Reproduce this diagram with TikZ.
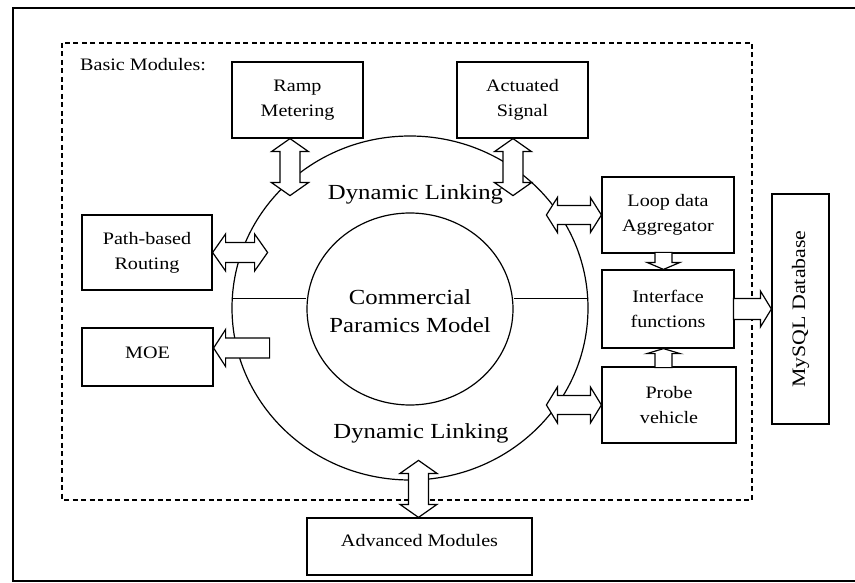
\documentclass[tikz,border=0pt]{standalone}
\usepackage{fontspec}
\setmainfont{Liberation Serif}[FakeStretch=1.15]
\usetikzlibrary{shapes.geometric,calc}
\begin{document}
\begin{tikzpicture}[x=1pt,y=-1pt,
  box/.style={draw, line width=1.2pt, align=center, inner sep=0pt,
    font=\fontsize{17.5}{25}\selectfont},
  big/.style={font=\fontsize{21.5}{28}\selectfont, align=center, inner sep=0pt},
  fat/.style={draw, line width=1.2pt, fill=white, line join=miter},
  ring/.style={ellipse, draw, line width=1.2pt, inner sep=0pt},
  fathw/.store in=\fathw, fatbw/.store in=\fatbw, fathl/.store in=\fathl,
  fathw=18.5, fatbw=10, fathl=13,
  pics/dbl/.style={code={\path[fat] (0,0) -- (\fathl,\fathw) -- (\fathl,\fatbw)
     -- (#1-\fathl,\fatbw) -- (#1-\fathl,\fathw) -- (#1,0) -- (#1-\fathl,-\fathw)
     -- (#1-\fathl,-\fatbw) -- (\fathl,-\fatbw) -- (\fathl,-\fathw) -- cycle;}},
  pics/sgl/.style={code={\path[fat] (0,0) -- (\fathl,\fathw) -- (\fathl,\fatbw)
     -- (#1,\fatbw) -- (#1,-\fatbw) -- (\fathl,-\fatbw) -- (\fathl,-\fathw) -- cycle;}},
]
\useasboundingbox (0,0) rectangle (855,583);
\fill[white] (0,0) rectangle (855,583);
% outer frame
\draw[line width=2pt] (13,8) rectangle (870,581);
% dashed module area
\draw[line width=1.2pt, dash pattern=on 5pt off 3.5pt] (62,43) rectangle (752,500);
\node[anchor=base west, inner sep=0pt, font=\fontsize{17.5}{20}\selectfont] (basic) at (80,71) {Basic Modules:};

% circles
\node[ring, minimum width=356, minimum height=344] (outer) at (410,308) {};
\node[ring, minimum width=206, minimum height=192] (inner) at (410,309) {};
\draw[line width=1.2pt] (outer.177) -- (outer.177 -| inner.west);
\draw[line width=1.2pt] (outer.3) -- (outer.3 -| inner.east);

\node[big, anchor=base] (dl1) at (415.5,200) {Dynamic Linking};
\node[big] (cpm) at (410,311) {Commercial\\Paramics Model};
\node[big, anchor=base] (dl2) at (421,438) {Dynamic Linking};

% boxes
\node[box, minimum width=131, minimum height=76] (ramp) at (297.5,100) {Ramp\\Metering};
\node[box, minimum width=131, minimum height=76] (act) at (522.5,100) {Actuated\\Signal};
\node[box, minimum width=130, minimum height=75] (path) at (147,252.5) {Path-based\\Routing};
\node[box, minimum width=131, minimum height=58, text height=12, text depth=10] (moe) at (147.5,357) {MOE};
\node[box, minimum width=132, minimum height=76] (loop) at (668,215) {Loop data\\Aggregator};
\node[box, minimum width=132, minimum height=78] (iface) at (668,309) {Interface\\functions};
\node[box, minimum width=134, minimum height=76] (probe) at (669,405) {Probe\\vehicle};
\node[box, minimum width=225, minimum height=57, text height=12, text depth=12] (adv) at (419.5,546.5) {Advanced Modules};
\node[box, rotate=90, minimum width=230, minimum height=57, font=\fontsize{19}{22}\selectfont] (db) at (800.5,309) {MySQL Database};

% fat arrows
\pic[rotate=-90] at ([xshift=-7.5pt]ramp.south) {dbl=57};
\pic[rotate=-90] at ([xshift=-9.5pt]act.south) {dbl=57};
\pic at (path.east) {dbl=55};
\pic[rotate=180, fathw=17.5, fatbw=9.5, fathl=11] at (loop.west) {dbl=55};
\pic[rotate=180, fathw=18, fatbw=9.5, fathl=11] at (probe.west) {dbl=55};
\pic[rotate=90] at ([xshift=-1pt]adv.north) {dbl=57};
\pic[fathw=18.5, fatbw=10, fathl=12] at ([yshift=9pt]moe.east) {sgl=56};
\pic[rotate=180, fathw=18, fatbw=10.5, fathl=11] at (db.north) {sgl=38};
\pic[rotate=90, fathw=16.5, fatbw=8.5, fathl=7] at ([xshift=-4.5pt]iface.north) {sgl=17};
\pic[rotate=-90, fathw=16.5, fatbw=8.5, fathl=5] at ([xshift=-4.5pt]iface.south) {sgl=19};
\end{tikzpicture}
\end{document}
